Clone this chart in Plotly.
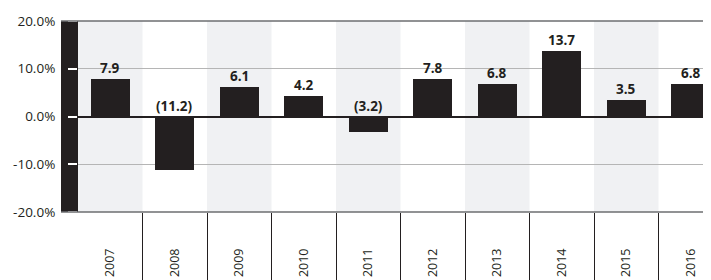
import plotly.graph_objects as go

years = ["2007", "2008", "2009", "2010", "2011", "2012", "2013", "2014", "2015", "2016"]
growth = [7.9, -11.2, 6.1, 4.2, -3.2, 7.8, 6.8, 13.7, 3.5, 6.8]
value_labels = ["7.9", "(11.2)", "6.1", "4.2", "(3.2)", "7.8", "6.8", "13.7", "3.5", "6.8"]
y_tick_vals = [-20, -10, 0, 10, 20]
y_tick_text = ["-20.0%", "-10.0%", "0.0%", "10.0%", "20.0%"]

# the page body adds an 8px offset, so the figure is sized to fill the rest
W, H = 703, 272
ML, MR, MT, MB = 70, 0, 13, 68
plot_w = W - ML - MR
col_px = 64.5
band_px = 17

DARK = "#231f20"
FONT = "Open Sans"

x = list(range(len(years)))

fig = go.Figure()
fig.add_trace(go.Bar(x=x, y=growth, width=0.6, marker=dict(color=DARK, line=dict(width=0)),
                     hoverinfo="skip"))

shapes = []
# alternating column shading
for i in x:
    if i % 2 == 0:
        shapes.append(dict(type="rect", xref="x", yref="paper", x0=i - 0.5, x1=i + 0.5,
                           y0=0, y1=1, fillcolor="#f0f1f3", line=dict(width=0), layer="below"))
# black band on the left
bx = -band_px / plot_w
shapes.append(dict(type="rect", xref="paper", yref="paper", x0=bx, x1=0, y0=0, y1=1,
                   fillcolor=DARK, line=dict(width=0), layer="below"))
# top and bottom border lines
for yy in (0, 1):
    shapes.append(dict(type="line", xref="paper", yref="paper", x0=bx, x1=1, y0=yy, y1=yy,
                       line=dict(color="#6d6e71", width=1.5), layer="above"))
fig.update_layout(shapes=shapes)

# value labels
for i, v, t in zip(x, growth, value_labels):
    fig.add_annotation(x=i, y=max(v, 0), text="<b>%s</b>" % t, showarrow=False,
                       yanchor="bottom", xanchor="center",
                       font=dict(family=FONT, size=13.5, color=DARK))

fig.update_xaxes(
    range=[-0.5, -0.5 + plot_w / col_px],
    tickvals=x, ticktext=years, tickangle=-90, ticks="",
    tickfont=dict(family=FONT, size=12.5, color=DARK),
    ticklabelstandoff=33,
    showgrid=False, zeroline=False, showline=False,
    minor=dict(tickvals=[i + 0.5 for i in x[:-1]], ticks="outside", ticklen=MB,
               tickcolor=DARK, tickwidth=1, showgrid=False),
    fixedrange=True,
)
fig.update_yaxes(
    range=[-20, 20], tickvals=y_tick_vals, ticktext=y_tick_text,
    ticks="outside", ticklen=9, tickcolor="white", tickwidth=1.5,
    tickfont=dict(family=FONT, size=13.5, color=DARK),
    ticklabelstandoff=10,
    showgrid=True, gridcolor="#b5b5b5", gridwidth=1,
    zeroline=True, zerolinecolor=DARK, zerolinewidth=1.5,
    showline=False, fixedrange=True,
)
fig.update_layout(
    width=W, height=H, margin=dict(l=ML, r=MR, t=MT, b=MB, pad=0),
    paper_bgcolor="white", plot_bgcolor="white", showlegend=False, bargap=0,
    font=dict(family=FONT, color=DARK),
)
fig.write_html("out.html", config={"displayModeBar": False})
